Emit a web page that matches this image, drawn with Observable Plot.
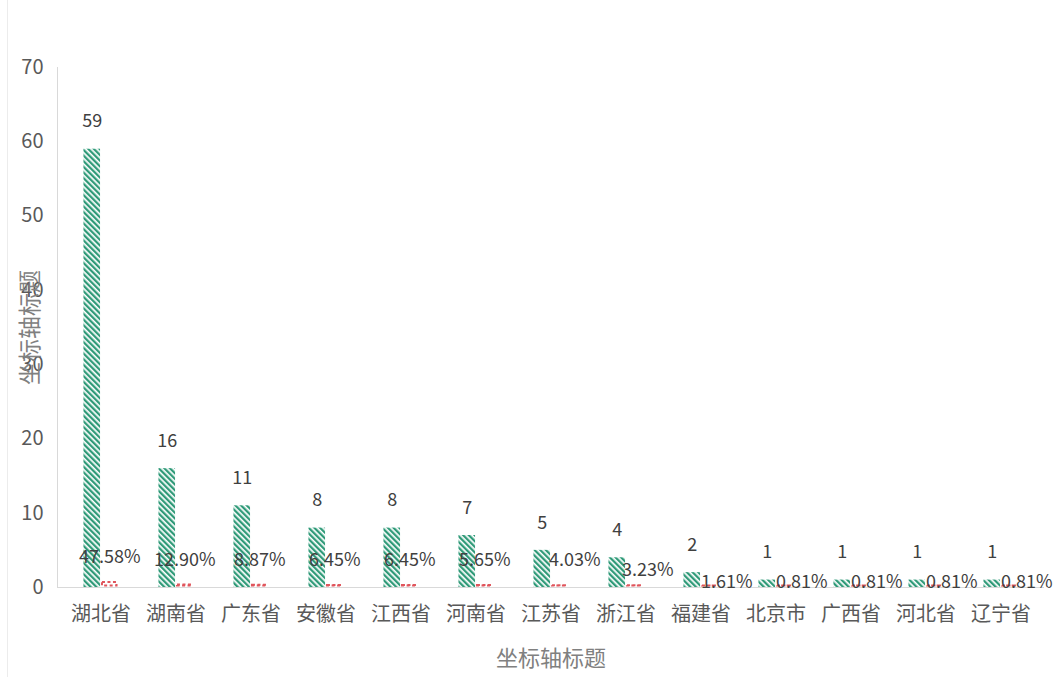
<!DOCTYPE html>
<html>
<head>
<meta charset="utf-8">
<script src="https://cdn.jsdelivr.net/npm/d3@7"></script>
<script src="https://cdn.jsdelivr.net/npm/@observablehq/plot@0.6"></script>
<style>
  html, body { margin: 0; padding: 0; background: #fff; }
  #wrap { position: relative; width: 1062px; height: 677px; overflow: hidden; }
  #edge { position: absolute; left: 7px; top: 0; width: 1px; height: 677px; background: #ececec; }
  svg { font-family: "Noto Sans CJK SC", "Noto Sans", sans-serif; }
</style>
</head>
<body>
<div id="wrap"><div id="edge"></div></div>
<script>
const provinces = ["湖北省", "湖南省", "广东省", "安徽省", "江西省", "河南省", "江苏省", "浙江省", "福建省", "北京市", "广西省", "河北省", "辽宁省"];
const counts = [59, 16, 11, 8, 8, 7, 5, 4, 2, 1, 1, 1, 1];
const percents = [47.58, 12.90, 8.87, 6.45, 6.45, 5.65, 4.03, 3.23, 1.61, 0.81, 0.81, 0.81, 0.81];
const yTicks = [0, 10, 20, 30, 40, 50, 60, 70];
const axisTitle = "坐标轴标题";

const data = provinces.map((p, i) => ({province: p, count: counts[i], pct: percents[i], share: percents[i] / 100, pctLabel: percents[i].toFixed(2) + "%"}));

const W = 1062, H = 677;
const mL = 57, mR = 18, mT = 67, mB = 90;
const step = (W - mL - mR) / provinces.length;
const barW = 17.5;
const labelFont = 18;
const labelFill = "#404040";

// percentage labels: Excel-like placement (large shares above the bar, small ones nudged right/down)
const pctBig = data.filter(d => d.pct >= 5);
const pctMid = data.filter(d => d.pct >= 4 && d.pct < 5);
const pctLow = data.filter(d => d.pct >= 2 && d.pct < 4);
const pctTiny = data.filter(d => d.pct < 2);

const chart = Plot.plot({
  width: W,
  height: H,
  marginLeft: mL,
  marginRight: mR,
  marginTop: mT,
  marginBottom: mB,
  style: {fontFamily: "'Noto Sans CJK SC', 'Noto Sans', sans-serif", background: "transparent"},
  x: {type: "band", domain: provinces, padding: 0, label: null},
  y: {domain: [0, 70], label: null},
  marks: [
    Plot.frame({anchor: "left", stroke: "#d9d9d9"}),
    Plot.ruleY([0], {stroke: "#d9d9d9"}),
    Plot.axisY({ticks: yTicks, tickSize: 0, tickPadding: 14, fontSize: 20, fill: "#595959", label: null}),
    Plot.axisX({tickSize: 0, tickPadding: 19, fontSize: 20, fill: "#595959", label: null}),
    Plot.barY(data, {x: "province", y: "count", fill: "url(#hatchTeal)", insetLeft: step / 2 - barW, insetRight: step / 2}),
    Plot.barY(data, {x: "province", y: "share", fill: "none", stroke: "#e0555c", strokeWidth: 2, strokeDasharray: "3,2.5", insetLeft: step / 2 + 1, insetRight: step / 2 - barW + 1, dy: -1.5}),
    Plot.text(data, {x: "province", y: "count", text: d => String(d.count), dx: -barW / 2, dy: -27.5, fontSize: labelFont, fill: labelFill}),
    Plot.text(pctBig, {x: "province", y: "share", text: "pctLabel", dx: barW / 2, dy: -26.5, fontSize: labelFont, fill: labelFill}),
    Plot.text(pctMid, {x: "province", y: "share", text: "pctLabel", textAnchor: "start", dx: -2, dy: -26.5, fontSize: labelFont, fill: labelFill}),
    Plot.text(pctLow, {x: "province", y: "share", text: "pctLabel", textAnchor: "start", dx: -4, dy: -17, fontSize: labelFont, fill: labelFill}),
    Plot.text(pctTiny, {x: "province", y: "share", text: "pctLabel", textAnchor: "start", dx: 0, dy: -5.5, fontSize: labelFont, fill: labelFill}),
    Plot.text([axisTitle], {frameAnchor: "left", textAnchor: "middle", lineAnchor: "middle", dx: -27, rotate: -90, fontSize: 23, fill: "#808080"}),
    Plot.text([axisTitle], {frameAnchor: "bottom", textAnchor: "middle", lineAnchor: "middle", dy: 71, fontSize: 22, fill: "#808080"})
  ]
});

const svg = d3.select(chart);
const defs = svg.insert("defs", ":first-child");
const hatch = defs.append("pattern")
  .attr("id", "hatchTeal")
  .attr("patternUnits", "userSpaceOnUse")
  .attr("width", 4).attr("height", 4)
  .attr("patternTransform", "rotate(-45)");
hatch.append("rect").attr("width", 4).attr("height", 4).attr("fill", "#ffffff");
hatch.append("rect").attr("width", 2.3).attr("height", 4).attr("fill", "#2f9a78");

document.getElementById("wrap").appendChild(chart);
</script>
</body>
</html>
